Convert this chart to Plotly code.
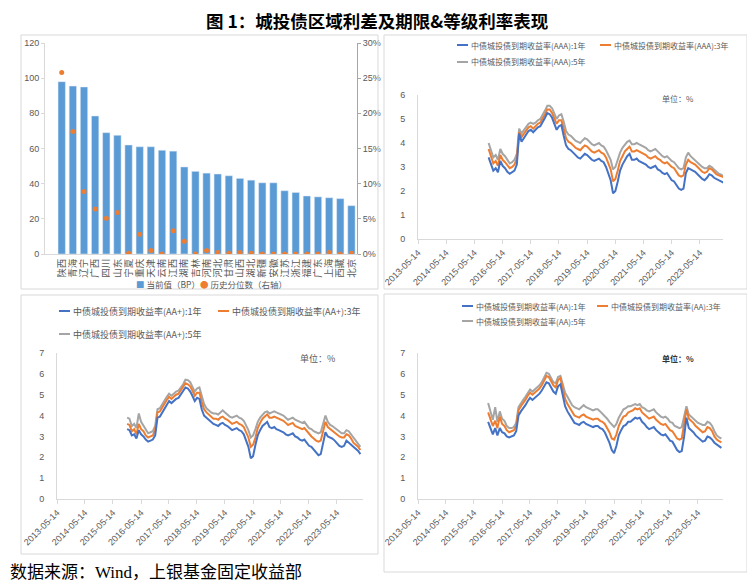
import pandas as pd
import plotly.graph_objects as go

# ---------------- data ----------------
provinces = ["陕西", "青海", "辽宁", "广西", "四川", "山东", "宁夏", "重庆", "天津", "云南",
             "江西", "湖南", "吉林", "河南", "河北", "甘肃", "山西", "湖北", "新疆", "安徽",
             "江苏", "浙江", "福建", "广东", "上海", "西藏", "北京"]
spread_bp = [98, 95.5, 95, 78.5, 69, 67.5, 62, 61, 61, 59, 58.5, 49.5, 47, 46, 45.5, 44.5,
             43, 42, 40.5, 40.5, 36, 35, 33, 32.5, 32, 31.5, 27.5]
pct_rank = [0.258, 0.174, 0.089, 0.064, 0.051, 0.059, 0.001, 0.028, 0.005, 0.0, 0.033, 0.018,
            0.0, 0.005, 0.002, 0.001, 0.002, 0.001, 0.0, 0.0, 0.0, 0.0, 0.0, 0.0, 0.002, 0.0, 0.001]

dates = pd.date_range("2015-11-01", "2024-03-01", freq="MS") + pd.Timedelta(days=14)

aaa_1y = [3.40, 3.10,
          2.85, 2.95, 2.78, 3.25, 3.05, 2.95, 2.80, 2.72, 2.78, 2.85, 3.10, 4.40,
          4.05, 4.20, 4.35, 4.50, 4.55, 4.45, 4.55, 4.65, 4.70, 4.85, 5.05, 5.25,
          5.20, 5.05, 4.80, 4.55, 4.70, 4.75, 4.30, 3.90, 3.75, 3.70, 3.60, 3.50,
          3.40, 3.35, 3.45, 3.55, 3.50, 3.40, 3.30, 3.25, 3.30, 3.35, 3.25, 3.20,
          3.00, 2.70, 2.45, 1.90, 2.00, 2.40, 2.85, 3.10, 3.30, 3.45, 3.55, 3.30,
          3.30, 3.35, 3.25, 3.20, 3.15, 3.10, 3.00, 2.95, 3.00, 3.05, 2.90, 2.85,
          2.75, 2.70, 2.75, 2.60, 2.45, 2.40, 2.25, 2.10, 2.05, 2.10, 2.75, 2.95,
          2.90, 2.85, 2.80, 2.70, 2.60, 2.50, 2.45, 2.55, 2.70, 2.65, 2.55, 2.50,
          2.45, 2.40, 2.35]
aaa_3y = [3.75, 3.45,
          3.15, 3.25, 3.05, 3.50, 3.30, 3.20, 3.05, 2.95, 3.00, 3.10, 3.35, 4.45,
          4.25, 4.40, 4.50, 4.65, 4.70, 4.60, 4.70, 4.80, 4.85, 5.00, 5.20, 5.40,
          5.40, 5.25, 5.00, 4.80, 4.95, 4.95, 4.60, 4.20, 4.05, 4.00, 3.90, 3.80,
          3.75, 3.70, 3.80, 3.90, 3.85, 3.75, 3.65, 3.60, 3.65, 3.70, 3.60, 3.55,
          3.40, 3.10, 2.90, 2.40, 2.50, 2.85, 3.25, 3.45, 3.65, 3.75, 3.85, 3.65,
          3.65, 3.70, 3.65, 3.60, 3.55, 3.50, 3.40, 3.35, 3.40, 3.45, 3.35, 3.30,
          3.20, 3.15, 3.20, 3.10, 3.00, 2.95, 2.80, 2.65, 2.60, 2.65, 3.10, 3.30,
          3.20, 3.15, 3.10, 3.00, 2.90, 2.80, 2.75, 2.80, 2.95, 2.90, 2.80, 2.70,
          2.65, 2.62, 2.58]
aaa_5y = [4.00, 3.70,
          3.40, 3.50, 3.30, 3.75, 3.55, 3.45, 3.30, 3.15, 3.20, 3.30, 3.55, 4.60,
          4.40, 4.55, 4.65, 4.80, 4.85, 4.80, 4.85, 4.95, 5.00, 5.15, 5.35, 5.55,
          5.55, 5.45, 5.20, 5.00, 5.15, 5.20, 4.90, 4.50, 4.35, 4.30, 4.20, 4.10,
          4.05, 4.00, 4.10, 4.20, 4.15, 4.05, 3.95, 3.90, 3.95, 4.00, 3.90, 3.85,
          3.70, 3.45, 3.30, 2.90, 3.00, 3.30, 3.60, 3.80, 3.95, 4.05, 4.10, 3.95,
          3.95, 4.00, 3.95, 3.90, 3.85, 3.80, 3.70, 3.65, 3.70, 3.75, 3.65, 3.55,
          3.45, 3.40, 3.45, 3.35, 3.25, 3.20, 3.05, 2.95, 2.90, 2.95, 3.40, 3.60,
          3.45, 3.35, 3.30, 3.20, 3.10, 3.00, 2.95, 2.95, 3.05, 3.00, 2.90, 2.80,
          2.72, 2.68, 2.62]

aap_1y = [3.35, 3.30,
          3.05, 3.10, 2.90, 3.30, 3.10, 3.00, 2.85, 2.75, 2.80, 2.85, 3.05, 3.90,
          3.95, 4.15, 4.35, 4.55, 4.70, 4.60, 4.70, 4.80, 4.85, 5.00, 5.15, 5.35,
          5.30, 5.15, 4.95, 4.70, 4.85, 4.80, 4.30, 4.00, 3.90, 3.80, 3.70, 3.60,
          3.55, 3.50, 3.60, 3.65, 3.55, 3.50, 3.40, 3.30, 3.35, 3.40, 3.30, 3.25,
          3.10, 2.80, 2.50, 1.95, 2.05, 2.60, 3.05, 3.30, 3.50, 3.60, 3.70, 3.45,
          3.40, 3.45, 3.35, 3.30, 3.25, 3.20, 3.10, 3.05, 3.10, 3.15, 3.00, 2.95,
          2.85, 2.80, 2.85, 2.70, 2.55, 2.50, 2.35, 2.20, 2.10, 2.15, 2.65, 3.20,
          3.00, 2.95, 2.90, 2.80, 2.70, 2.55, 2.50, 2.55, 2.80, 2.70, 2.60, 2.50,
          2.40, 2.30, 2.15]
aap_3y = [3.60, 3.55,
          3.25, 3.35, 3.10, 3.60, 3.35, 3.25, 3.05, 2.95, 3.00, 3.05, 3.30, 4.15,
          4.20, 4.40, 4.55, 4.75, 4.90, 4.80, 4.90, 5.00, 5.05, 5.20, 5.35, 5.55,
          5.50, 5.40, 5.20, 4.95, 5.10, 5.10, 4.65, 4.30, 4.15, 4.05, 3.95, 3.85,
          3.85, 3.80, 3.90, 3.95, 3.85, 3.80, 3.70, 3.60, 3.65, 3.70, 3.60, 3.55,
          3.45, 3.20, 2.95, 2.50, 2.60, 2.95, 3.40, 3.65, 3.85, 3.95, 4.05, 3.90,
          3.90, 3.95, 3.90, 3.85, 3.80, 3.75, 3.65, 3.55, 3.60, 3.65, 3.50, 3.45,
          3.40, 3.35, 3.40, 3.25, 3.10, 3.00, 2.90, 2.80, 2.75, 2.80, 3.25, 3.70,
          3.45, 3.35, 3.30, 3.20, 3.10, 3.00, 2.95, 2.95, 3.10, 3.05, 2.90, 2.70,
          2.60, 2.50, 2.35]
aap_5y = [3.90, 3.85,
          3.50, 3.60, 3.40, 4.10, 3.70, 3.50, 3.30, 3.15, 3.20, 3.25, 3.50, 4.30,
          4.35, 4.55, 4.70, 4.90, 5.05, 4.95, 5.05, 5.15, 5.20, 5.35, 5.50, 5.72,
          5.70, 5.60, 5.40, 5.15, 5.30, 5.35, 4.95, 4.55, 4.35, 4.25, 4.15, 4.10,
          4.10, 4.05, 4.15, 4.25, 4.15, 4.05, 3.95, 3.90, 3.95, 4.00, 3.90, 3.85,
          3.75, 3.50, 3.30, 2.95, 3.05, 3.35, 3.70, 3.90, 4.05, 4.15, 4.20, 4.10,
          4.15, 4.20, 4.15, 4.10, 4.05, 4.00, 3.90, 3.80, 3.85, 3.90, 3.80, 3.75,
          3.70, 3.65, 3.70, 3.55, 3.40, 3.35, 3.25, 3.20, 3.15, 3.20, 3.60, 4.00,
          3.70, 3.55, 3.50, 3.40, 3.30, 3.20, 3.15, 3.15, 3.30, 3.25, 3.10, 2.90,
          2.75, 2.65, 2.50]

aa_1y = [3.70, 3.40,
         3.10, 3.40, 3.05, 3.40, 3.20, 3.15, 3.00, 2.95, 3.00, 3.05, 3.25, 4.00,
         4.20, 4.35, 4.50, 4.70, 4.85, 4.75, 4.85, 4.95, 5.05, 5.20, 5.40, 5.60,
         5.55, 5.35, 5.15, 5.05, 5.40, 5.50, 4.95, 4.45, 4.20, 4.00, 3.80, 3.65,
         3.60, 3.55, 3.65, 3.70, 3.60, 3.55, 3.50, 3.45, 3.50, 3.50, 3.40, 3.35,
         3.20, 2.95, 2.70, 2.35, 2.20, 2.55, 3.05, 3.30, 3.50, 3.55, 3.70, 3.70,
         3.80, 3.90, 3.85, 3.90, 3.70, 3.60, 3.45, 3.35, 3.40, 3.45, 3.30, 3.20,
         3.10, 3.05, 3.10, 2.95, 2.80, 2.75, 2.55, 2.35, 2.25, 2.30, 3.00, 3.90,
         3.40, 3.30, 3.20, 3.05, 2.95, 2.85, 2.75, 2.80, 3.00, 2.95, 2.85, 2.70,
         2.60, 2.50, 2.45]
aa_3y = [4.15, 3.85,
         3.50, 3.75, 3.40, 3.95, 3.60, 3.50, 3.30, 3.20, 3.25, 3.30, 3.50, 4.25,
         4.45, 4.60, 4.75, 4.95, 5.10, 5.00, 5.10, 5.20, 5.30, 5.45, 5.70, 5.90,
         5.85, 5.65, 5.45, 5.35, 5.70, 5.80, 5.30, 4.80, 4.55, 4.35, 4.15, 4.00,
         3.95, 3.90, 4.00, 4.05, 3.95, 3.90, 3.85, 3.80, 3.85, 3.85, 3.75, 3.70,
         3.60, 3.40, 3.20, 2.90, 2.85, 3.10, 3.50, 3.75, 3.95, 4.00, 4.15, 4.20,
         4.25, 4.35, 4.30, 4.35, 4.15, 4.05, 3.95, 3.85, 3.90, 3.95, 3.80, 3.70,
         3.60, 3.55, 3.60, 3.45, 3.30, 3.25, 3.05, 2.90, 2.85, 2.90, 3.60, 4.30,
         3.85, 3.75, 3.65, 3.50, 3.40, 3.30, 3.20, 3.25, 3.45, 3.40, 3.25, 3.00,
         2.85, 2.78, 2.72]
aa_5y = [4.60, 4.20,
         3.80, 4.40, 3.70, 4.20, 3.85, 3.75, 3.50, 3.40, 3.40, 3.45, 3.65, 4.40,
         4.60, 4.75, 4.90, 5.10, 5.25, 5.15, 5.25, 5.35, 5.45, 5.60, 5.85, 6.05,
         6.00, 5.80, 5.60, 5.55, 5.85, 5.90, 5.55, 5.10, 4.90, 4.70, 4.50, 4.40,
         4.35, 4.30, 4.40, 4.50, 4.40, 4.35, 4.30, 4.25, 4.30, 4.30, 4.20, 4.10,
         4.00, 3.85, 3.70, 3.55, 3.45, 3.60, 3.90, 4.10, 4.30, 4.35, 4.45, 4.45,
         4.50, 4.55, 4.50, 4.55, 4.40, 4.35, 4.25, 4.20, 4.25, 4.30, 4.15, 4.05,
         3.95, 3.90, 3.95, 3.85, 3.70, 3.65, 3.50, 3.45, 3.40, 3.45, 3.90, 4.45,
         4.05, 3.95, 3.85, 3.75, 3.65, 3.60, 3.55, 3.55, 3.70, 3.65, 3.50, 3.25,
         3.05, 2.95, 2.90]

year_ticks = ["2013-05-14", "2014-05-14", "2015-05-14", "2016-05-14", "2017-05-14", "2018-05-14",
              "2019-05-14", "2020-05-14", "2021-05-14", "2022-05-14", "2023-05-14"]

# ---------------- styling helpers ----------------
# the page has an 8px body margin, so the figure is drawn 8px in from the top-left corner
OFF = 8
W, H = 755 - OFF, 585 - OFF
def px(x):
    return (x - OFF) / W
def py(y):
    return 1 - (y - OFF) / H

BLUE, ORANGE, GRAY = "#4472C4", "#ED7D31", "#A5A5A5"
BAR = "#5B9BD5"
TXT = "#595959"
CJK = "Noto Sans CJK SC, Liberation Sans, sans-serif"
AX = "#D9D9D9"

fig = go.Figure()

# ---- panel 1: bars + percentile ----
fig.add_trace(go.Bar(x=provinces, y=spread_bp, marker_color=BAR, width=0.66,
                     xaxis="x", yaxis="y", showlegend=False))
fig.add_trace(go.Scatter(x=provinces, y=pct_rank, mode="markers",
                         marker=dict(color=ORANGE, size=5), xaxis="x", yaxis="y2", showlegend=False))

# ---- line panels ----
panels = [("x2", "y3", aaa_1y, aaa_3y, aaa_5y),
          ("x3", "y4", aap_1y, aap_3y, aap_5y),
          ("x4", "y5", aa_1y, aa_3y, aa_5y)]
for xa, ya, s1, s3, s5 in panels:
    for s, c in ((s5, GRAY), (s3, ORANGE), (s1, BLUE)):
        fig.add_trace(go.Scatter(x=dates, y=s, mode="lines", line=dict(color=c, width=2),
                                 xaxis=xa, yaxis=ya, showlegend=False))

tickfont = dict(family="Liberation Sans, Noto Sans CJK SC", size=9, color=TXT)

def date_axis(x0, x1, end):
    return dict(domain=[px(x0), px(x1)], type="date", range=["2013-05-14", end],
                tickvals=year_ticks, ticktext=year_ticks, tickangle=-45, tickfont=tickfont,
                showgrid=False, showline=True, linecolor=AX, linewidth=1, automargin=False,
                ticks="outside", ticklen=4, tickcolor=AX, zeroline=False)

def val_axis(y0, y1, top, anchor):
    return dict(domain=[py(y0), py(y1)], range=[0, top], dtick=1, tickfont=tickfont,
                showgrid=False, showline=True, linecolor=AX, linewidth=1, zeroline=False,
                anchor=anchor, ticks="", ticklabelstandoff=10, automargin=False)

fig.update_layout(
    width=W, height=H, autosize=False,
    margin=dict(l=0, r=0, t=0, b=0, pad=0),
    paper_bgcolor="white", plot_bgcolor="rgba(0,0,0,0)",
    bargap=0.34,
    xaxis=dict(domain=[px(45), px(357)], range=[-1.5, 26.5], type="category", dtick=1,
               tickangle=-90, tickfont=dict(family=CJK, size=9.5, color=TXT), automargin=False,
               showline=True, linecolor=AX, ticks="", anchor="y", showgrid=False),
    yaxis=dict(domain=[py(254), py(43)], range=[0, 120], dtick=20, tickfont=tickfont,
               showgrid=False, showline=True, linecolor=AX, ticks="outside", ticklen=3,
               tickcolor=AX, anchor="x", zeroline=False, automargin=False),
    yaxis2=dict(overlaying="y", side="right", range=[0, 0.30], dtick=0.05, tickformat=".0%",
                tickfont=tickfont, showgrid=False, showline=True, linecolor="#A6A6A6",
                ticks="outside", ticklen=3, tickcolor="#A6A6A6", anchor="x", zeroline=False,
                automargin=False),
    xaxis2=date_axis(418, 723, "2024-03-10") | dict(anchor="y3"),
    yaxis3=val_axis(239, 95, 6, "x2"),
    xaxis3=date_axis(57, 363, "2024-04-18") | dict(anchor="y4"),
    yaxis4=val_axis(499, 353, 7, "x3"),
    xaxis4=date_axis(418, 723, "2024-04-05") | dict(anchor="y5"),
    yaxis5=val_axis(499, 353, 7, "x4"),
)

shapes = []
# panel borders
for (x0, y0, x1, y1) in [(21, 35, 378, 289), (384, 35, 747, 289), (21, 295, 378, 554), (384, 294, 747, 572)]:
    shapes.append(dict(type="rect", xref="paper", yref="paper", x0=px(x0), x1=px(x1),
                       y0=py(y1), y1=py(y0), line=dict(color=AX, width=1)))

annotations = []
def text(x, y, s, size=8, color=TXT, anchor="left", bold=False, family=CJK):
    annotations.append(dict(x=px(x), y=py(y), xref="paper", yref="paper", text=s, showarrow=False,
                            xanchor=anchor, yanchor="middle",
                            font=dict(size=size, color=color, family=family,
                                      weight="bold" if bold else "normal")))

def legend_item(x, y, color, label, size):
    shapes.append(dict(type="line", xref="paper", yref="paper", x0=px(x), x1=px(x + 11),
                       y0=py(y), y1=py(y), line=dict(color=color, width=2)))
    text(x + 12, y, label, size=size)

# legends of line panels
legend_item(457, 45, BLUE, "中债城投债到期收益率(AAA):1年", 8)
legend_item(600, 45, ORANGE, "中债城投债到期收益率(AAA):3年", 8)
legend_item(457, 62, GRAY, "中债城投债到期收益率(AAA):5年", 8)
legend_item(59, 311, BLUE, "中债城投债到期收益率(AA+):1年", 9)
legend_item(218, 311, ORANGE, "中债城投债到期收益率(AA+):3年", 9)
legend_item(59, 334, GRAY, "中债城投债到期收益率(AA+):5年", 9)
legend_item(462, 306, BLUE, "中债城投债到期收益率(AA):1年", 8)
legend_item(597, 306, ORANGE, "中债城投债到期收益率(AA):3年", 8)
legend_item(462, 321, GRAY, "中债城投债到期收益率(AA):5年", 8)

# bar panel legend
text(134, 284, f"<span style='color:{BAR}'>■</span> 当前值（BP）", size=8.5)
text(198, 284, f"<span style='color:{ORANGE}'>●</span> 历史分位数（右轴）", size=8.5)

# unit labels
text(660, 98, "单位：%", size=8)
text(298, 358, "单位：%", size=9)
text(660, 358, "单位：%", size=8, bold=True, color="#333333")

# title and source
text(377, 20, "图 1：城投债区域利差及期限&amp;等级利率表现", size=17.5, color="#000000",
     anchor="center", bold=True, family="Noto Sans CJK SC")
text(8, 572, "数据来源：Wind，上银基金固定收益部", size=17, color="#000000",
     family="Liberation Serif, Noto Sans CJK SC")

fig.update_layout(shapes=shapes, annotations=annotations)
fig.write_html("out.html")
